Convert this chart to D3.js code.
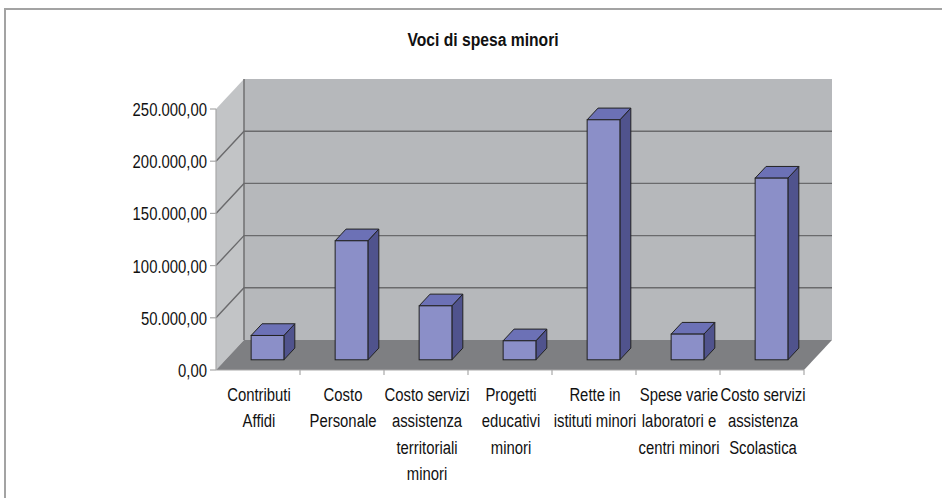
<!DOCTYPE html>
<html lang="it">
<head>
  <meta charset="UTF-8" />
  <title>Voci di spesa minori</title>
  <style>
    body { margin: 0; background: #fff; }
    text { font-family: "Liberation Sans", Arial, sans-serif; fill: #111; }
    .title { font-size: 16px; font-weight: bold; }
    .ytick { font-size: 16px; }
    .xlab { font-size: 16px; }
    .grid { stroke: #6a6a6c; stroke-width: 1.4px; fill: none; }
    .axis-line { stroke: #a8a8a8; stroke-width: 1.2px; fill: none; }
  </style>
  <script src="https://d3js.org/d3.v7.min.js"></script>
</head>
<body>
  <div id="chart"></div>
  <script type="text/javascript">
    const categories = [
      ["Contributi", "Affidi"],
      ["Costo", "Personale"],
      ["Costo servizi", "assistenza", "territoriali", "minori"],
      ["Progetti", "educativi", "minori"],
      ["Rette in", "istituti minori"],
      ["Spese varie", "laboratori e", "centri minori"],
      ["Costo servizi", "assistenza", "Scolastica"]
    ];
    const values = [23300, 114000, 51700, 18200, 229900, 24600, 174000];
    const yTicks = [0, 50000, 100000, 150000, 200000, 250000];
    const title = "Voci di spesa minori";

    const W = 942, H = 498;
    const plotLeft = 216, plotRight = 804, plotBottom = 370, plotTop = 109;
    const depthX = 28, depthY = -30;           // full floor depth
    const barFront = 0.34, barBack = 0.73;      // bar position inside the depth
    const stretch = "scale(0.93,1.2)";          // the source text is drawn tall and narrow

    const fmt = v => d3.format(",.2f")(v).replace(/,/g, "#").replace(".", ",").replace(/#/g, ".");

    const svg = d3.select("#chart").append("svg")
      .attr("width", W)
      .attr("height", H);

    // outer frame
    svg.append("path")
      .attr("d", `M5,${H} L5,9 L${W},9`)
      .attr("fill", "none")
      .attr("stroke", "#a3a3a3")
      .attr("stroke-width", 2);

    svg.append("text")
      .attr("class", "title")
      .attr("text-anchor", "middle")
      .attr("transform", `translate(483,46) scale(0.98,1.2)`)
      .text(title);

    const x = d3.scaleBand()
      .domain(d3.range(categories.length))
      .range([plotLeft, plotRight]);
    const y = d3.scaleLinear()
      .domain([0, 250000])
      .range([plotBottom, plotTop]);

    // walls
    svg.append("path")
      .attr("d", `M${plotLeft},${plotTop} L${plotLeft + depthX},${plotTop + depthY} L${plotLeft + depthX},${plotBottom + depthY} L${plotLeft},${plotBottom} Z`)
      .attr("fill", "#c2c4c6");
    svg.append("rect")
      .attr("x", plotLeft + depthX)
      .attr("y", plotTop + depthY)
      .attr("width", plotRight - plotLeft)
      .attr("height", plotBottom - plotTop)
      .attr("fill", "#b6b8bb");
    svg.append("path")
      .attr("d", `M${plotLeft},${plotBottom} L${plotLeft + depthX},${plotBottom + depthY} L${plotRight + depthX},${plotBottom + depthY} L${plotRight},${plotBottom} Z`)
      .attr("fill", "#7e7f82");

    // gridlines (side wall + back wall)
    svg.selectAll(".grid-line")
      .data(yTicks.filter(t => t > 0 && t < 250000))
      .enter().append("path")
      .attr("class", "grid")
      .attr("d", t => `M${plotLeft},${y(t)} L${plotLeft + depthX},${y(t) + depthY} L${plotRight + depthX},${y(t) + depthY}`);
    svg.append("line")
      .attr("class", "grid")
      .attr("x1", plotLeft + depthX).attr("x2", plotLeft + depthX)
      .attr("y1", plotTop + depthY).attr("y2", plotBottom + depthY);

    // axes
    svg.append("line")
      .attr("class", "axis-line")
      .attr("x1", plotLeft).attr("x2", plotLeft)
      .attr("y1", plotTop).attr("y2", plotBottom);
    svg.append("line")
      .attr("class", "axis-line")
      .attr("x1", plotLeft).attr("x2", plotRight)
      .attr("y1", plotBottom).attr("y2", plotBottom);

    svg.selectAll(".ytickmark")
      .data(yTicks)
      .enter().append("line")
      .attr("class", "axis-line")
      .attr("x1", plotLeft - 6).attr("x2", plotLeft)
      .attr("y1", d => y(d)).attr("y2", d => y(d));

    svg.selectAll(".ytick")
      .data(yTicks)
      .enter().append("text")
      .attr("class", "ytick")
      .attr("text-anchor", "end")
      .attr("transform", d => `translate(${plotLeft - 9},${y(d) + 7}) ${stretch}`)
      .text(d => fmt(d));

    svg.selectAll(".xtickmark")
      .data(d3.range(categories.length))
      .enter().append("line")
      .attr("class", "axis-line")
      .attr("x1", i => x(i) + x.bandwidth())
      .attr("x2", i => x(i) + x.bandwidth())
      .attr("y1", plotBottom).attr("y2", plotBottom + 5);

    // category labels
    categories.forEach((lines, i) => {
      const t = svg.append("text")
        .attr("class", "xlab")
        .attr("text-anchor", "middle")
        .attr("transform", `translate(${x(i) + x.bandwidth() / 2 + 1},401) ${stretch}`);
      lines.forEach((ln, j) => {
        t.append("tspan").attr("x", 0).attr("y", j * 26.4 / 1.2).text(ln);
      });
    });

    // 3D bars
    const bw = x.bandwidth() * 0.39;
    const fdx = depthX * barFront, fdy = depthY * barFront;
    const bdx = depthX * (barBack - barFront), bdy = depthY * (barBack - barFront);

    const bars = svg.selectAll(".bar")
      .data(values)
      .enter().append("g")
      .attr("class", "bar");

    bars.each(function (v, i) {
      const g = d3.select(this);
      const x0 = x(i) + x.bandwidth() / 2 + fdx - bw / 2;
      const x1 = x0 + bw;
      const yb = y(0) + fdy;
      const yt = y(v) + fdy;
      // side
      g.append("path")
        .attr("d", `M${x1},${yt} L${x1 + bdx},${yt + bdy} L${x1 + bdx},${yb + bdy} L${x1},${yb} Z`)
        .attr("fill", "#50538d")
        .attr("stroke", "#222")
        .attr("stroke-width", 1)
        .attr("stroke-linejoin", "round");
      // top
      g.append("path")
        .attr("d", `M${x0},${yt} L${x0 + bdx},${yt + bdy} L${x1 + bdx},${yt + bdy} L${x1},${yt} Z`)
        .attr("fill", "#6c71b6")
        .attr("stroke", "#222")
        .attr("stroke-width", 1)
        .attr("stroke-linejoin", "round");
      // front
      g.append("rect")
        .attr("x", x0)
        .attr("y", yt)
        .attr("width", bw)
        .attr("height", yb - yt)
        .attr("fill", "#8b8fc8")
        .attr("stroke", "#222")
        .attr("stroke-width", 1);
    });
  </script>
</body>
</html>
